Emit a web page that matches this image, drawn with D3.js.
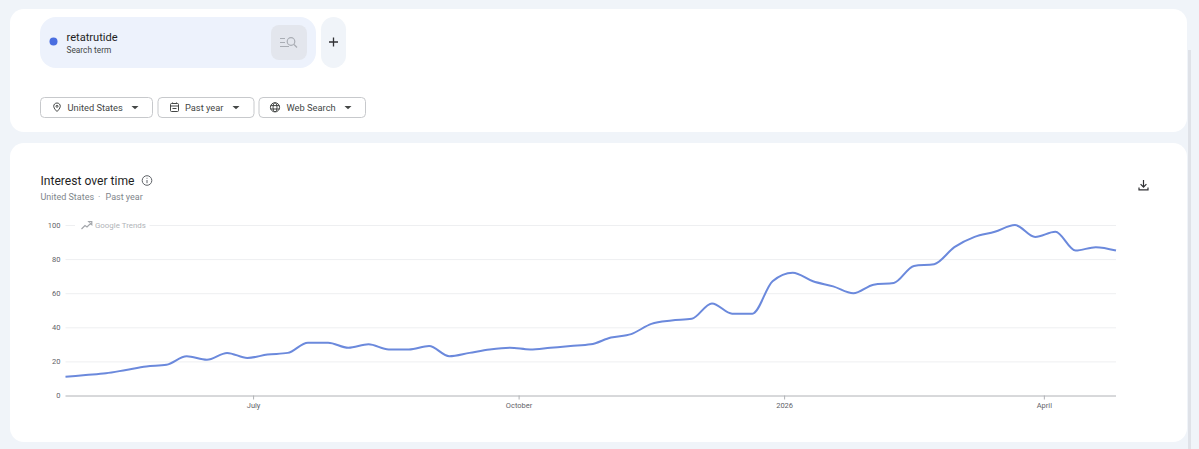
<!DOCTYPE html>
<html><head><meta charset="utf-8">
<script src="https://cdn.jsdelivr.net/npm/d3@7"></script>
<style>html,body{margin:0;padding:0;background:#f0f4f9;overflow:hidden}svg{display:block;font-family:Roboto,sans-serif}</style>
</head><body><svg id="c" width="1199" height="449"></svg>
<script>
const startDate = "2025-04-27";
const interest = [11,12,13,15,17,18,23,21,25,22,24,25,31,31,28,30,27,27,29,23,25,27,28,27,28,29,30,34,36,42,44,45,54,48,48,67,72,67,64,60,65,66,76,77,87,93,96,100,93,96,85,87,85];
const yTicks = [0,20,40,60,80,100];
const xTickDates = ["2025-07-01","2025-10-01","2026-01-01","2026-04-01"];
const xTickLabels = ["July","October","2026","April"];
const filters = ["United States","Past year","Web Search"];
const term = "retatrutide";
const dates = interest.map((_,i)=>d3.timeDay.offset(new Date(startDate+"T00:00:00"),i*7));
const svg = d3.select("#c");
const card=(x,y,w,h,r,f)=>svg.append("rect").attr("x",x).attr("y",y).attr("width",w).attr("height",h).attr("rx",r).attr("fill",f);
const text=(x,y,s,size,fill,w)=>svg.append("text").attr("x",x).attr("y",y).text(s).attr("font-size",size).attr("fill",fill).attr("font-weight",w||400);
// page
svg.append("rect").attr("x",1188).attr("y",50).attr("width",3).attr("height",399).attr("fill","#dfe2e8");
card(10,9,1177,123,14,"#fff");
card(10,143,1177,299,14,"#fff");
// term chip
card(40,17,276,51,16,"#edf2fc");
svg.append("circle").attr("cx",53.5).attr("cy",41.5).attr("r",4).attr("fill","#4a6ee0");
text(66.5,41,term,11.1,"#1f1f1f",400);
text(66.5,52.5,"Search term",8.3,"#444746");
card(271,25,36,35,8,"#e3e6ed");
const g0=svg.append("g").attr("fill","none").attr("stroke","#a9adb4").attr("stroke-width",1.2);
g0.append("path").attr("d","M280 38.5h5M280 42.5h5M280 46.5h9");
g0.append("circle").attr("cx",291).attr("cy",41.5).attr("r",3.8);
g0.append("path").attr("d","M294 44.5l3 3");
card(321,17,25,51,12.5,"#f0f4f9");
svg.append("path").attr("d","M333.5 37.5v9M329 42h9").attr("stroke","#303134").attr("stroke-width",1.3).attr("fill","none");
// filter buttons
const bx=[[40.5,112,67.5,135],[158,96,185,236],[259,106.5,286.5,348]];
filters.forEach((f,i)=>{
  const [x,w,tx,ax]=bx[i];
  svg.append("rect").attr("x",x).attr("y",97.5).attr("width",w).attr("height",20).attr("rx",4).attr("fill","#fff").attr("stroke","#c7c9cc");
  text(tx,110.8,f,9.3,"#444746");
  svg.append("path").attr("d",`M${ax-3.5} 106h7l-3.5 3.2z`).attr("fill","#444746");
});
const ic=svg.append("g").attr("fill","none").attr("stroke","#444746").attr("stroke-width",1);
ic.append("path").attr("d","M57 103c-2 0-3.3 1.5-3.3 3.3 0 2.2 3.3 5.2 3.3 5.2s3.3-3 3.3-5.2c0-1.8-1.3-3.3-3.3-3.3z");
ic.append("circle").attr("cx",57).attr("cy",106.3).attr("r",1);
ic.append("rect").attr("x",170.5).attr("y",103.5).attr("width",8).attr("height",8).attr("rx",1);
ic.append("path").attr("d","M170.5 106h8M172.5 102.5v1.5M176.5 102.5v1.5M172.5 108.5h4").attr("stroke-width",1.1);
ic.append("circle").attr("cx",275).attr("cy",107.3).attr("r",4.6);
ic.append("ellipse").attr("cx",275).attr("cy",107.3).attr("rx",2).attr("ry",4.6);
ic.append("path").attr("d","M270.6 105.6h8.8M270.6 109h8.8");
// heading
text(40.5,185,"Interest over time",12.1,"#1f1f1f",400);
text(40.5,199.5,"United States",9,"#80868b");
text(98,199.5,"·",9,"#80868b");
text(105.5,199.5,"Past year",9,"#80868b");
svg.append("circle").attr("cx",147).attr("cy",180.5).attr("r",4.8).attr("fill","none").attr("stroke","#5f6368").attr("stroke-width",1);
svg.append("path").attr("d","M147 180v3.2M147 177.8v.9").attr("stroke","#5f6368").attr("stroke-width",1);
svg.append("path").attr("d","M1143.5 180v7M1140.6 184.2l2.9 2.9 2.9-2.9M1139 187.5v2.3h9v-2.3").attr("fill","none").attr("stroke","#303134").attr("stroke-width",1.2);
// chart
const x=d3.scaleTime().domain(d3.extent(dates)).range([65.5,1116]);
const y=d3.scaleLinear().domain([0,100]).range([395.5,225]);
const gy=svg.append("g").attr("transform","translate(65.5,0)").call(d3.axisLeft(y).tickValues(yTicks).tickSize(0).tickPadding(5));
gy.select(".domain").remove();
gy.selectAll("text").attr("font-size",7.5).attr("font-family","Roboto,sans-serif").attr("fill","#5f6368");
gy.selectAll(".tick").append("line").attr("x1",0).attr("x2",1050.5).attr("stroke",d=>d===0?"#b0b2b6":"#eeeff1");
svg.append("rect").attr("x",75).attr("y",218).attr("width",74.5).attr("height",14).attr("fill","#fff");
svg.append("path").attr("d","M81.5 229l3.5-3.5 2 1.5 3.5-3.5 1.3 1.2v-3h-3l1 1").attr("fill","none").attr("stroke","#a3a6ab").attr("stroke-width",1.2);
text(95,228,"Google Trends",7.9,"#b0b3b8");
const gx=svg.append("g").attr("transform","translate(0,395.5)").call(d3.axisBottom(x).tickValues(xTickDates.map(d=>new Date(d+"T00:00:00"))).tickFormat((d,i)=>xTickLabels[i]).tickSize(4).tickPadding(3));
gx.select(".domain").remove();
gx.selectAll("line").attr("stroke","#b0b2b6");
gx.selectAll("text").attr("font-size",7.5).attr("font-family","Roboto,sans-serif").attr("fill","#5f6368");
const line=d3.line().x((d,i)=>x(dates[i])).y(d=>y(d)).curve(d3.curveMonotoneX);
svg.append("path").datum(interest).attr("d",line).attr("fill","none").attr("stroke","#6b89dc").attr("stroke-width",2).attr("stroke-linejoin","round");
</script></body></html>
